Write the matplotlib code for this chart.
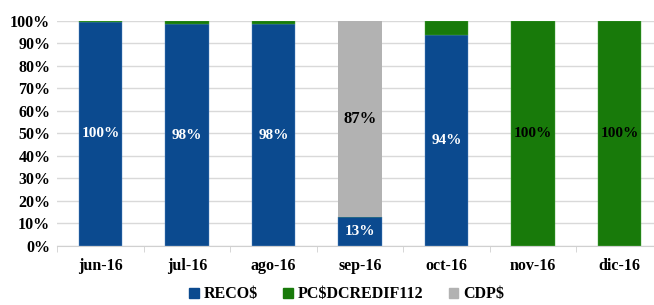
import numpy as np
import matplotlib.pyplot as plt
from matplotlib.patches import Patch

months = ["jun-16", "jul-16", "ago-16", "sep-16", "oct-16", "nov-16", "dic-16"]
reco = [99.5, 98.4, 98.4, 13.0, 93.6, 0, 0]
pc = [0.5, 1.6, 1.6, 0, 6.4, 100, 100]
cdp = [0, 0, 0, 87.0, 0, 0, 0]
reco_lbl = ["100%", "98%", "98%", "13%", "94%", "", ""]
pc_lbl = ["", "", "", "", "", "100%", "100%"]
cdp_lbl = ["", "", "", "87%", "", "", ""]

c_reco = "#0B4A8F"
c_pc = "#187A0A"
c_cdp = "#B2B2B2"

plt.rcParams["font.family"] = ["Liberation Serif", "DejaVu Serif"]
plt.rcParams["font.weight"] = "bold"

fig = plt.figure(figsize=(6.54, 3.05), dpi=100)
ax = fig.add_axes([57.25 / 654, 0.194, (662.75 - 57.25) / 654, 0.738])

x = np.arange(len(months))
w = 0.5
b1 = ax.bar(x, reco, w, color=c_reco, edgecolor="#5a8cc8", linewidth=0.3, zorder=3)
b2 = ax.bar(x, pc, w, bottom=reco, color=c_pc, edgecolor="#4caa40", linewidth=0.3, zorder=3)
b3 = ax.bar(x, cdp, w, bottom=np.array(reco) + np.array(pc), color=c_cdp, zorder=3)

ax.bar_label(b1, labels=reco_lbl, label_type="center", color="white", fontsize=11, fontweight="bold")
ax.bar_label(b2, labels=pc_lbl, label_type="center", color="black", fontsize=11, fontweight="bold")
ax.bar_label(b3, labels=cdp_lbl, label_type="center", color="black", fontsize=12, fontweight="bold")

ax.set_ylim(0, 100)
ax.set_xlim(-0.5, len(months) - 0.5)
ax.set_yticks(np.arange(0, 101, 10))
ax.set_yticklabels([f"{v}%" for v in range(0, 101, 10)], fontsize=11.5, fontweight="bold")
ax.set_xticks(x)
ax.set_xticklabels(months, fontsize=11.5, fontweight="bold")
ax.set_xticks(np.arange(-0.5, len(months), 1), minor=True)
ax.tick_params(axis="x", which="major", length=0, pad=9)
ax.tick_params(axis="x", which="minor", length=4, color="#d0d0d0", direction="out")
ax.tick_params(axis="y", length=0, pad=5)
ax.grid(axis="y", color="#d9d9d9", linewidth=1, zorder=0)
for s in ["top", "right", "left"]:
    ax.spines[s].set_visible(False)
ax.spines["bottom"].set_color("#d0d0d0")
ax.spines["bottom"].set_zorder(4)

handles = [Patch(color=c_reco), Patch(color=c_pc), Patch(color=c_cdp)]
fig.legend(handles, ["RECO$", "PC$DCREDIF112", "CDP$"], loc="center", bbox_to_anchor=(0.53, 0.035),
           ncol=3, frameon=False, fontsize=11.5, handlelength=0.6, handleheight=0.6,
           handletextpad=0.3, columnspacing=1.6)

fig.savefig("out.png", dpi=100)
